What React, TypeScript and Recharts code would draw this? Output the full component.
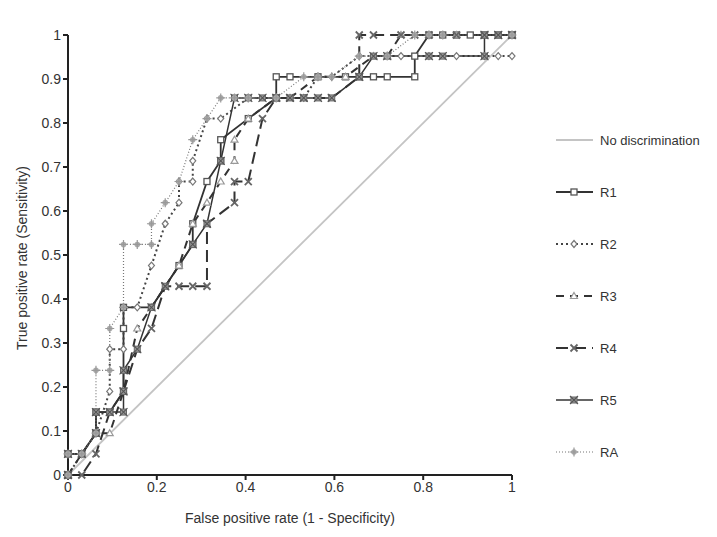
import React from "react";
import { LineChart, Line, XAxis, YAxis } from "recharts";

// ROC points (FPR on x, TPR on y)
const r1Fpr = [0, 0, 0.031, 0.063, 0.063, 0.094, 0.125, 0.125, 0.125, 0.188, 0.25, 0.281, 0.281, 0.313, 0.344, 0.344, 0.406, 0.469, 0.469, 0.5, 0.563, 0.625, 0.656, 0.688, 0.719, 0.781, 0.781, 0.813, 0.844, 0.875, 0.906, 0.938, 0.969, 1];
const r1Tpr = [0, 0.048, 0.048, 0.095, 0.143, 0.143, 0.19, 0.333, 0.381, 0.381, 0.476, 0.524, 0.571, 0.667, 0.714, 0.762, 0.81, 0.857, 0.905, 0.905, 0.905, 0.905, 0.905, 0.905, 0.905, 0.905, 0.952, 1, 1, 1, 1, 1, 1, 1];

const r2Fpr = [0, 0.031, 0.063, 0.094, 0.094, 0.125, 0.125, 0.156, 0.188, 0.219, 0.25, 0.25, 0.281, 0.281, 0.313, 0.344, 0.406, 0.531, 0.563, 0.594, 0.656, 0.75, 0.813, 0.875, 0.938, 0.969, 1];
const r2Tpr = [0, 0.048, 0.095, 0.19, 0.286, 0.286, 0.381, 0.381, 0.476, 0.571, 0.619, 0.667, 0.667, 0.714, 0.81, 0.81, 0.857, 0.857, 0.905, 0.905, 0.952, 0.952, 0.952, 0.952, 0.952, 0.952, 0.952];

const r3Fpr = [0, 0.031, 0.063, 0.094, 0.125, 0.156, 0.188, 0.25, 0.281, 0.313, 0.344, 0.375, 0.375, 0.406, 0.469, 0.5, 0.563, 0.625, 0.688, 0.719, 0.75, 0.813, 0.875, 1];
const r3Tpr = [0, 0.048, 0.095, 0.095, 0.19, 0.333, 0.381, 0.476, 0.571, 0.619, 0.667, 0.714, 0.762, 0.81, 0.857, 0.857, 0.905, 0.905, 0.952, 0.952, 1, 1, 1, 1];

const r4Fpr = [0, 0.031, 0.063, 0.094, 0.125, 0.156, 0.188, 0.219, 0.25, 0.281, 0.313, 0.313, 0.375, 0.375, 0.406, 0.438, 0.469, 0.5, 0.531, 0.594, 0.656, 0.656, 0.688, 0.75, 0.781, 0.813, 0.875, 0.938, 1];
const r4Tpr = [0, 0, 0.048, 0.143, 0.19, 0.286, 0.333, 0.429, 0.429, 0.429, 0.429, 0.571, 0.619, 0.667, 0.667, 0.81, 0.857, 0.857, 0.857, 0.857, 0.905, 1, 1, 1, 1, 1, 1, 1, 1];

const r5Fpr = [0, 0, 0.031, 0.063, 0.063, 0.094, 0.125, 0.125, 0.125, 0.156, 0.188, 0.219, 0.281, 0.313, 0.344, 0.375, 0.406, 0.438, 0.469, 0.5, 0.531, 0.563, 0.594, 0.656, 0.688, 0.719, 0.813, 0.844, 0.938, 0.938, 0.969, 1];
const r5Tpr = [0, 0.048, 0.048, 0.095, 0.143, 0.143, 0.143, 0.19, 0.238, 0.286, 0.381, 0.429, 0.524, 0.571, 0.714, 0.857, 0.857, 0.857, 0.857, 0.857, 0.857, 0.857, 0.857, 0.905, 0.952, 0.952, 0.952, 0.952, 0.952, 1, 1, 1];

const raFpr = [0, 0, 0.031, 0.063, 0.063, 0.094, 0.094, 0.125, 0.125, 0.156, 0.188, 0.188, 0.219, 0.25, 0.281, 0.313, 0.344, 0.375, 0.406, 0.469, 0.531, 0.563, 0.594, 0.656, 0.719, 0.781, 0.813, 0.844, 1];
const raTpr = [0, 0.048, 0.048, 0.095, 0.238, 0.238, 0.333, 0.381, 0.524, 0.524, 0.524, 0.571, 0.619, 0.667, 0.762, 0.81, 0.857, 0.857, 0.857, 0.857, 0.905, 0.905, 0.905, 0.952, 0.952, 1, 1, 1, 1];

const chanceFpr = [0, 1];
const chanceTpr = [0, 1];

const xTicks = [0, 0.2, 0.4, 0.6, 0.8, 1];
const yTicks = [0, 0.1, 0.2, 0.3, 0.4, 0.5, 0.6, 0.7, 0.8, 0.9, 1];
const legendNames = ["No discrimination", "R1", "R2", "R3", "R4", "R5", "RA"];

const zip = (xs: number[], ys: number[]) => xs.map((x, i) => ({ x, y: ys[i] }));

const FONT = "'Liberation Sans', Arial, sans-serif";

// marker shapes
const Square = ({ cx, cy }: any) => (
  <rect x={cx - 3} y={cy - 3} width={6} height={6} fill="#fff" stroke="#555" strokeWidth={1.3} />
);
const Diamond = ({ cx, cy }: any) => (
  <path d={`M${cx},${cy - 3.5} L${cx + 3},${cy} L${cx},${cy + 3.5} L${cx - 3},${cy} Z`} fill="#fff" stroke="#777" strokeWidth={1.2} />
);
const Tri = ({ cx, cy }: any) => (
  <path d={`M${cx},${cy - 3.5} L${cx + 3.5},${cy + 2.5} L${cx - 3.5},${cy + 2.5} Z`} fill="#fff" stroke="#999" strokeWidth={1.2} />
);
const Cross = ({ cx, cy }: any) => (
  <path d={`M${cx - 3.5},${cy - 3.5} L${cx + 3.5},${cy + 3.5} M${cx + 3.5},${cy - 3.5} L${cx - 3.5},${cy + 3.5}`} stroke="#666" strokeWidth={1.8} />
);
const BoxX = ({ cx, cy }: any) => (
  <g>
    <rect x={cx - 3} y={cy - 3} width={6} height={6} fill="#999" stroke="#666" strokeWidth={1} />
    <path d={`M${cx - 4},${cy - 4} L${cx + 4},${cy + 4} M${cx + 4},${cy - 4} L${cx - 4},${cy + 4}`} stroke="#555" strokeWidth={1.1} />
  </g>
);
const Star = ({ cx, cy }: any) => (
  <g>
    <circle cx={cx} cy={cy} r={2.8} fill="#aaa" />
    <path d={`M${cx - 4.5},${cy} L${cx + 4.5},${cy} M${cx},${cy - 4.5} L${cx},${cy + 4.5}`} stroke="#999" strokeWidth={1.2} />
  </g>
);

const series = [
  { name: "R1", data: zip(r1Fpr, r1Tpr), dash: undefined, width: 1.8, color: "#333", Dot: Square },
  { name: "R2", data: zip(r2Fpr, r2Tpr), dash: "2 3", width: 2, color: "#444", Dot: Diamond },
  { name: "R3", data: zip(r3Fpr, r3Tpr), dash: "8 6", width: 2, color: "#333", Dot: Tri },
  { name: "R4", data: zip(r4Fpr, r4Tpr), dash: "12 6", width: 2, color: "#333", Dot: Cross },
  { name: "R5", data: zip(r5Fpr, r5Tpr), dash: undefined, width: 1.5, color: "#333", Dot: BoxX },
  { name: "RA", data: zip(raFpr, raTpr), dash: "1 2", width: 1.2, color: "#777", Dot: Star },
];

const LegendBox = () => (
  <svg width={170} height={360} style={{ position: "absolute", left: 540, top: 117 }}>
    {legendNames.map((name, i) => {
      const y = 15 + i * 52;
      const s = series[i - 1];
      return (
        <g key={name}>
          {i === 0 ? (
            <line x1={8} x2={45} y1={y} y2={y} stroke="#c4c4c4" strokeWidth={2} />
          ) : (
            <>
              <line x1={8} x2={45} y1={y} y2={y} stroke={s.color} strokeWidth={s.width} strokeDasharray={s.dash} />
              <s.Dot cx={26} cy={y} />
            </>
          )}
          <text x={52} y={y + 4.5} fontSize={13} fill="#333" fontFamily={FONT}>
            {name}
          </text>
        </g>
      );
    })}
  </svg>
);

export default function App() {
  return (
    <div style={{ position: "relative", width: 709, height: 529 }}>
      <LineChart width={709} height={529} margin={{ top: 27, right: 205, bottom: 0, left: 0 }}>
        <XAxis
          type="number"
          dataKey="x"
          domain={[0, 1]}
          ticks={xTicks}
          tickFormatter={(v) => String(v)}
          stroke="#222"
          strokeWidth={2}
          tickSize={5}
          height={62}
          tick={{ fontSize: 14, fill: "#333", fontFamily: FONT }}
          label={{ value: "False positive rate (1 - Specificity)", position: "insideBottom", offset: 14, fontSize: 14, fill: "#333", fontFamily: FONT }}
          allowDuplicatedCategory={false}
        />
        <YAxis
          type="number"
          dataKey="y"
          domain={[0, 1]}
          ticks={yTicks}
          tickFormatter={(v) => String(v)}
          stroke="#222"
          strokeWidth={2}
          tickSize={5}
          width={60}
          tick={{ fontSize: 14, fill: "#333", fontFamily: FONT }}
          label={{ value: "True positive rate (Sensitivity)", angle: -90, position: "insideLeft", offset: 14, dy: 95, fontSize: 14, fill: "#333", fontFamily: FONT }}
        />
        <Line
          data={zip(chanceFpr, chanceTpr)}
          dataKey="y"
          type="linear"
          stroke="#c4c4c4"
          strokeWidth={1.8}
          dot={false}
          activeDot={false}
          isAnimationActive={false}
        />
        {series.map((s) => (
          <Line
            key={s.name}
            data={s.data}
            dataKey="y"
            name={s.name}
            type="linear"
            stroke={s.color}
            strokeWidth={s.width}
            strokeDasharray={s.dash}
            dot={(p: any) => <s.Dot key={`${s.name}-${p.index}`} cx={p.cx} cy={p.cy} />}
            activeDot={false}
            isAnimationActive={false}
          />
        ))}
      </LineChart>
      <LegendBox />
    </div>
  );
}
